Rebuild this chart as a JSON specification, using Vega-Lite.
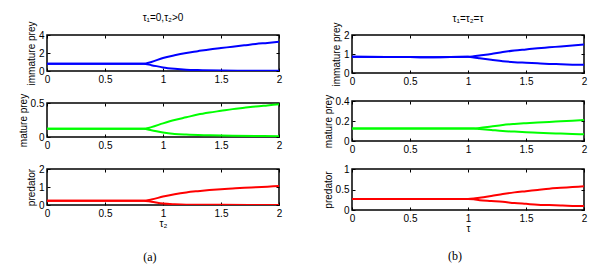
{
"$schema":"https://vega.github.io/schema/vega-lite/v6.json",
"autosize":{"type":"pad"},
"padding":{"left":17,"top":12,"right":10,"bottom":5},
"background":"white",
"data":{"values":[
{"p":"a1","b":"max","t":0,"v":0.8},{"p":"a1","b":"max","t":0.83,"v":0.8},{"p":"a1","b":"max","t":0.9,"v":1.0},{"p":"a1","b":"max","t":1.0,"v":1.45},{"p":"a1","b":"max","t":1.1,"v":1.75},{"p":"a1","b":"max","t":1.2,"v":2.0},{"p":"a1","b":"max","t":1.3,"v":2.2},{"p":"a1","b":"max","t":1.4,"v":2.4},{"p":"a1","b":"max","t":1.5,"v":2.55},{"p":"a1","b":"max","t":1.6,"v":2.7},{"p":"a1","b":"max","t":1.7,"v":2.85},{"p":"a1","b":"max","t":1.8,"v":3.0},{"p":"a1","b":"max","t":1.9,"v":3.12},{"p":"a1","b":"max","t":2.0,"v":3.25},
{"p":"a1","b":"min","t":0,"v":0.8},{"p":"a1","b":"min","t":0.83,"v":0.8},{"p":"a1","b":"min","t":0.9,"v":0.65},{"p":"a1","b":"min","t":1.0,"v":0.4},{"p":"a1","b":"min","t":1.1,"v":0.25},{"p":"a1","b":"min","t":1.2,"v":0.15},{"p":"a1","b":"min","t":1.3,"v":0.1},{"p":"a1","b":"min","t":1.5,"v":0.05},{"p":"a1","b":"min","t":1.75,"v":0.03},{"p":"a1","b":"min","t":2.0,"v":0.02},
{"p":"a2","b":"max","t":0,"v":0.12},{"p":"a2","b":"max","t":0.83,"v":0.12},{"p":"a2","b":"max","t":0.9,"v":0.145},{"p":"a2","b":"max","t":1.0,"v":0.2},{"p":"a2","b":"max","t":1.1,"v":0.25},{"p":"a2","b":"max","t":1.2,"v":0.29},{"p":"a2","b":"max","t":1.3,"v":0.33},{"p":"a2","b":"max","t":1.4,"v":0.36},{"p":"a2","b":"max","t":1.5,"v":0.385},{"p":"a2","b":"max","t":1.6,"v":0.41},{"p":"a2","b":"max","t":1.7,"v":0.43},{"p":"a2","b":"max","t":1.8,"v":0.45},{"p":"a2","b":"max","t":1.9,"v":0.465},{"p":"a2","b":"max","t":2.0,"v":0.48},
{"p":"a2","b":"min","t":0,"v":0.12},{"p":"a2","b":"min","t":0.83,"v":0.12},{"p":"a2","b":"min","t":0.9,"v":0.1},{"p":"a2","b":"min","t":1.0,"v":0.065},{"p":"a2","b":"min","t":1.1,"v":0.045},{"p":"a2","b":"min","t":1.2,"v":0.035},{"p":"a2","b":"min","t":1.4,"v":0.025},{"p":"a2","b":"min","t":1.6,"v":0.018},{"p":"a2","b":"min","t":2.0,"v":0.012},
{"p":"a3","b":"max","t":0,"v":0.24},{"p":"a3","b":"max","t":0.83,"v":0.24},{"p":"a3","b":"max","t":0.9,"v":0.3},{"p":"a3","b":"max","t":1.0,"v":0.47},{"p":"a3","b":"max","t":1.1,"v":0.6},{"p":"a3","b":"max","t":1.2,"v":0.7},{"p":"a3","b":"max","t":1.3,"v":0.77},{"p":"a3","b":"max","t":1.4,"v":0.83},{"p":"a3","b":"max","t":1.5,"v":0.88},{"p":"a3","b":"max","t":1.6,"v":0.92},{"p":"a3","b":"max","t":1.7,"v":0.96},{"p":"a3","b":"max","t":1.8,"v":0.99},{"p":"a3","b":"max","t":1.9,"v":1.02},{"p":"a3","b":"max","t":2.0,"v":1.05},
{"p":"a3","b":"min","t":0,"v":0.24},{"p":"a3","b":"min","t":0.83,"v":0.24},{"p":"a3","b":"min","t":0.9,"v":0.18},{"p":"a3","b":"min","t":1.0,"v":0.08},{"p":"a3","b":"min","t":1.1,"v":0.04},{"p":"a3","b":"min","t":1.2,"v":0.02},{"p":"a3","b":"min","t":1.5,"v":0.01},{"p":"a3","b":"min","t":2.0,"v":0.005},
{"p":"b1","b":"max","t":0,"v":0.85},{"p":"b1","b":"max","t":0.5,"v":0.84},{"p":"b1","b":"max","t":0.7,"v":0.83},{"p":"b1","b":"max","t":1.0,"v":0.85},{"p":"b1","b":"max","t":1.05,"v":0.88},{"p":"b1","b":"max","t":1.1,"v":0.92},{"p":"b1","b":"max","t":1.2,"v":1.0},{"p":"b1","b":"max","t":1.3,"v":1.1},{"p":"b1","b":"max","t":1.4,"v":1.18},{"p":"b1","b":"max","t":1.5,"v":1.24},{"p":"b1","b":"max","t":1.6,"v":1.3},{"p":"b1","b":"max","t":1.7,"v":1.35},{"p":"b1","b":"max","t":1.8,"v":1.4},{"p":"b1","b":"max","t":1.9,"v":1.45},{"p":"b1","b":"max","t":2.0,"v":1.5},
{"p":"b1","b":"min","t":0,"v":0.85},{"p":"b1","b":"min","t":0.5,"v":0.84},{"p":"b1","b":"min","t":0.7,"v":0.83},{"p":"b1","b":"min","t":1.0,"v":0.85},{"p":"b1","b":"min","t":1.05,"v":0.82},{"p":"b1","b":"min","t":1.1,"v":0.78},{"p":"b1","b":"min","t":1.2,"v":0.7},{"p":"b1","b":"min","t":1.3,"v":0.62},{"p":"b1","b":"min","t":1.4,"v":0.57},{"p":"b1","b":"min","t":1.5,"v":0.54},{"p":"b1","b":"min","t":1.6,"v":0.51},{"p":"b1","b":"min","t":1.7,"v":0.48},{"p":"b1","b":"min","t":1.8,"v":0.46},{"p":"b1","b":"min","t":1.9,"v":0.44},{"p":"b1","b":"min","t":2.0,"v":0.43},
{"p":"b2","b":"max","t":0,"v":0.125},{"p":"b2","b":"max","t":1.05,"v":0.125},{"p":"b2","b":"max","t":1.1,"v":0.13},{"p":"b2","b":"max","t":1.2,"v":0.145},{"p":"b2","b":"max","t":1.3,"v":0.16},{"p":"b2","b":"max","t":1.4,"v":0.17},{"p":"b2","b":"max","t":1.5,"v":0.178},{"p":"b2","b":"max","t":1.6,"v":0.185},{"p":"b2","b":"max","t":1.7,"v":0.19},{"p":"b2","b":"max","t":1.8,"v":0.197},{"p":"b2","b":"max","t":1.9,"v":0.203},{"p":"b2","b":"max","t":2.0,"v":0.21},
{"p":"b2","b":"min","t":0,"v":0.125},{"p":"b2","b":"min","t":1.05,"v":0.125},{"p":"b2","b":"min","t":1.1,"v":0.12},{"p":"b2","b":"min","t":1.2,"v":0.11},{"p":"b2","b":"min","t":1.3,"v":0.1},{"p":"b2","b":"min","t":1.4,"v":0.094},{"p":"b2","b":"min","t":1.5,"v":0.088},{"p":"b2","b":"min","t":1.6,"v":0.083},{"p":"b2","b":"min","t":1.7,"v":0.078},{"p":"b2","b":"min","t":1.8,"v":0.074},{"p":"b2","b":"min","t":1.9,"v":0.07},{"p":"b2","b":"min","t":2.0,"v":0.067},
{"p":"b3","b":"max","t":0,"v":0.27},{"p":"b3","b":"max","t":1.0,"v":0.27},{"p":"b3","b":"max","t":1.05,"v":0.28},{"p":"b3","b":"max","t":1.1,"v":0.3},{"p":"b3","b":"max","t":1.2,"v":0.34},{"p":"b3","b":"max","t":1.3,"v":0.39},{"p":"b3","b":"max","t":1.4,"v":0.43},{"p":"b3","b":"max","t":1.5,"v":0.46},{"p":"b3","b":"max","t":1.6,"v":0.49},{"p":"b3","b":"max","t":1.7,"v":0.52},{"p":"b3","b":"max","t":1.8,"v":0.54},{"p":"b3","b":"max","t":1.9,"v":0.56},{"p":"b3","b":"max","t":2.0,"v":0.58},
{"p":"b3","b":"min","t":0,"v":0.27},{"p":"b3","b":"min","t":1.0,"v":0.27},{"p":"b3","b":"min","t":1.05,"v":0.26},{"p":"b3","b":"min","t":1.1,"v":0.24},{"p":"b3","b":"min","t":1.2,"v":0.22},{"p":"b3","b":"min","t":1.3,"v":0.2},{"p":"b3","b":"min","t":1.4,"v":0.17},{"p":"b3","b":"min","t":1.5,"v":0.15},{"p":"b3","b":"min","t":1.6,"v":0.13},{"p":"b3","b":"min","t":1.7,"v":0.12},{"p":"b3","b":"min","t":1.8,"v":0.11},{"p":"b3","b":"min","t":1.9,"v":0.1},{"p":"b3","b":"min","t":2.0,"v":0.095}
]},
"spacing":39,
"hconcat":[
{"spacing":32,"bounds":"flush",
 "title":{"text":"(a)","orient":"bottom","anchor":"middle","font":"Liberation Serif","fontSize":12,"fontWeight":"normal","offset":23},
 "vconcat":[
 {"width":232,"height":36,"title":{"text":"τ₁=0,τ₂>0","offset":-2},
  "transform":[{"filter":"datum.p==='a1'"}],
  "layer":[
   {"mark":{"type":"line","color":"#0000ff","strokeWidth":2,"interpolate":"monotone","clip":true},
    "encoding":{"x":{"field":"t","type":"quantitative","scale":{"domain":[0,2]},"axis":{"values":[0,0.5,1,1.5,2],"format":"~g","title":null}},
     "y":{"field":"v","type":"quantitative","scale":{"domain":[0,4]},"axis":{"values":[0,2,4],"format":"~g","title":"immature prey"}},
     "detail":{"field":"b"}}},
   {"mark":{"type":"line","opacity":0,"clip":true},
    "encoding":{"x":{"field":"t","type":"quantitative","scale":{"domain":[0,2]},"axis":{"orient":"top","values":[0,0.5,1,1.5,2],"labels":false,"title":null}},
     "y":{"field":"v","type":"quantitative","scale":{"domain":[0,4]},"axis":{"orient":"right","values":[0,2,4],"labels":false,"title":null}},
     "detail":{"field":"b"}}}
  ],
  "resolve":{"axis":{"x":"independent","y":"independent"}}},
 {"width":232,"height":34,
  "transform":[{"filter":"datum.p==='a2'"}],
  "layer":[
   {"mark":{"type":"line","color":"#00ff00","strokeWidth":2,"interpolate":"monotone","clip":true},
    "encoding":{"x":{"field":"t","type":"quantitative","scale":{"domain":[0,2]},"axis":{"values":[0,0.5,1,1.5,2],"format":"~g","title":null}},
     "y":{"field":"v","type":"quantitative","scale":{"domain":[0,0.5]},"axis":{"values":[0,0.5],"format":"~g","title":"mature prey"}},
     "detail":{"field":"b"}}},
   {"mark":{"type":"line","opacity":0,"clip":true},
    "encoding":{"x":{"field":"t","type":"quantitative","scale":{"domain":[0,2]},"axis":{"orient":"top","values":[0,0.5,1,1.5,2],"labels":false,"title":null}},
     "y":{"field":"v","type":"quantitative","scale":{"domain":[0,0.5]},"axis":{"orient":"right","values":[0,0.5],"labels":false,"title":null}},
     "detail":{"field":"b"}}}
  ],
  "resolve":{"axis":{"x":"independent","y":"independent"}}},
 {"width":232,"height":36,
  "transform":[{"filter":"datum.p==='a3'"}],
  "layer":[
   {"mark":{"type":"line","color":"#ff0000","strokeWidth":2,"interpolate":"monotone","clip":true},
    "encoding":{"x":{"field":"t","type":"quantitative","scale":{"domain":[0,2]},"axis":{"values":[0,0.5,1,1.5,2],"format":"~g","title":"τ₂","titlePadding":0}},
     "y":{"field":"v","type":"quantitative","scale":{"domain":[0,2]},"axis":{"values":[0,1,2],"format":"~g","title":"predator"}},
     "detail":{"field":"b"}}},
   {"mark":{"type":"line","opacity":0,"clip":true},
    "encoding":{"x":{"field":"t","type":"quantitative","scale":{"domain":[0,2]},"axis":{"orient":"top","values":[0,0.5,1,1.5,2],"labels":false,"title":null}},
     "y":{"field":"v","type":"quantitative","scale":{"domain":[0,2]},"axis":{"orient":"right","values":[0,1,2],"labels":false,"title":null}},
     "detail":{"field":"b"}}}
  ],
  "resolve":{"axis":{"x":"independent","y":"independent"}}}
 ]},
{"spacing":28,"bounds":"flush",
 "title":{"text":"(b)","orient":"bottom","anchor":"middle","font":"Liberation Serif","fontSize":12,"fontWeight":"normal","offset":17},
 "vconcat":[
 {"width":232,"height":38,"title":{"text":"τ₁=τ₂=τ","offset":-2},
  "transform":[{"filter":"datum.p==='b1'"}],
  "layer":[
   {"mark":{"type":"line","color":"#0000ff","strokeWidth":2,"interpolate":"monotone","clip":true},
    "encoding":{"x":{"field":"t","type":"quantitative","scale":{"domain":[0,2]},"axis":{"values":[0,0.5,1,1.5,2],"format":"~g","title":null}},
     "y":{"field":"v","type":"quantitative","scale":{"domain":[0,2]},"axis":{"values":[0,1,2],"format":"~g","title":"immature prey"}},
     "detail":{"field":"b"}}},
   {"mark":{"type":"line","opacity":0,"clip":true},
    "encoding":{"x":{"field":"t","type":"quantitative","scale":{"domain":[0,2]},"axis":{"orient":"top","values":[0,0.5,1,1.5,2],"labels":false,"title":null}},
     "y":{"field":"v","type":"quantitative","scale":{"domain":[0,2]},"axis":{"orient":"right","values":[0,1,2],"labels":false,"title":null}},
     "detail":{"field":"b"}}}
  ],
  "resolve":{"axis":{"x":"independent","y":"independent"}}},
 {"width":232,"height":40,
  "transform":[{"filter":"datum.p==='b2'"}],
  "layer":[
   {"mark":{"type":"line","color":"#00ff00","strokeWidth":2,"interpolate":"monotone","clip":true},
    "encoding":{"x":{"field":"t","type":"quantitative","scale":{"domain":[0,2]},"axis":{"values":[0,0.5,1,1.5,2],"format":"~g","title":null}},
     "y":{"field":"v","type":"quantitative","scale":{"domain":[0,0.4]},"axis":{"values":[0,0.2,0.4],"format":"~g","title":"mature prey"}},
     "detail":{"field":"b"}}},
   {"mark":{"type":"line","opacity":0,"clip":true},
    "encoding":{"x":{"field":"t","type":"quantitative","scale":{"domain":[0,2]},"axis":{"orient":"top","values":[0,0.5,1,1.5,2],"labels":false,"title":null}},
     "y":{"field":"v","type":"quantitative","scale":{"domain":[0,0.4]},"axis":{"orient":"right","values":[0,0.2,0.4],"labels":false,"title":null}},
     "detail":{"field":"b"}}}
  ],
  "resolve":{"axis":{"x":"independent","y":"independent"}}},
 {"width":232,"height":41,
  "transform":[{"filter":"datum.p==='b3'"}],
  "layer":[
   {"mark":{"type":"line","color":"#ff0000","strokeWidth":2,"interpolate":"monotone","clip":true},
    "encoding":{"x":{"field":"t","type":"quantitative","scale":{"domain":[0,2]},"axis":{"values":[0,0.5,1,1.5,2],"format":"~g","title":"τ","titlePadding":0}},
     "y":{"field":"v","type":"quantitative","scale":{"domain":[0,1]},"axis":{"values":[0,0.5,1],"format":"~g","title":"predator"}},
     "detail":{"field":"b"}}},
   {"mark":{"type":"line","opacity":0,"clip":true},
    "encoding":{"x":{"field":"t","type":"quantitative","scale":{"domain":[0,2]},"axis":{"orient":"top","values":[0,0.5,1,1.5,2],"labels":false,"title":null}},
     "y":{"field":"v","type":"quantitative","scale":{"domain":[0,1]},"axis":{"orient":"right","values":[0,0.5,1],"labels":false,"title":null}},
     "detail":{"field":"b"}}}
  ],
  "resolve":{"axis":{"x":"independent","y":"independent"}}}
 ]}
],
"config":{
 "view":{"stroke":"black","strokeWidth":1.5},
 "axis":{"grid":false,"domain":false,"tickColor":"black","tickSize":-3,"labelFont":"Liberation Sans","labelFontSize":10,"labelColor":"black","labelFlush":false,"labelOverlap":false,"labelPadding":6,"titleFont":"Liberation Sans","titleFontSize":10,"titleFontWeight":"normal","titleColor":"black","titlePadding":2},
 "title":{"font":"Liberation Sans","fontSize":10,"fontWeight":"normal","color":"black"}
}
}
